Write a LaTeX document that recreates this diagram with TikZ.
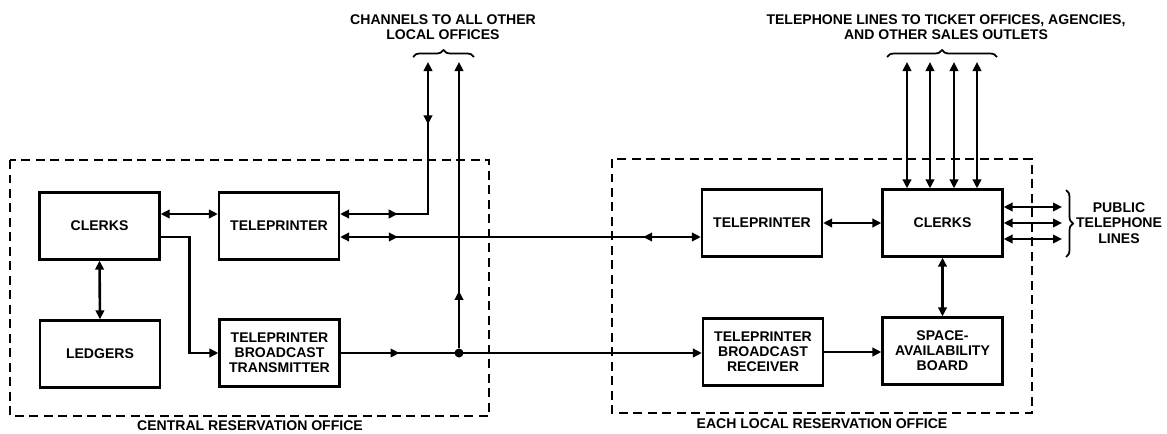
\documentclass[tikz,border=0pt]{standalone}
\usepackage{fontspec}
\setmainfont{Liberation Sans}
\usepackage{tikz}
\usetikzlibrary{arrows.meta, decorations.pathreplacing, decorations.markings}
\tikzstyle{block} = [draw, line width=1.3pt, minimum width=2.4cm, minimum height=1.34cm, align=center, inner sep=1pt, font=\fontsize{8}{8.6}\selectfont\bfseries]
\tikzstyle{office} = [draw, line width=1.2pt, dash pattern=on 0.18cm off 0.11cm]
\tikzstyle{caption} = [font=\fontsize{8}{8.8}\selectfont\bfseries, align=center, inner sep=0pt]
\tikzstyle{link} = [line width=1.5pt, {Triangle[length=1.8mm, width=1.7mm]}-{Triangle[length=1.8mm, width=1.7mm]}]
\tikzstyle{feed} = [line width=1.5pt, -{Triangle[length=1.8mm, width=1.7mm]}]
\tikzstyle{bracket} = [line width=1pt, decorate, decoration={brace, amplitude=0.14cm}]
\tikzset{
    fwdmark/.style={postaction={decorate, decoration={markings, mark=at position #1 with {\arrow{Triangle[length=1.8mm, width=1.7mm]}}}}},
    revmark/.style={postaction={decorate, decoration={markings, mark=at position #1 with {\arrowreversed{Triangle[length=1.8mm, width=1.7mm]}}}}},
}

\begin{document}
\begin{tikzpicture}[x=0.02cm, y=-0.02cm]
    \useasboundingbox (0,0) rectangle (1167,433);
    % the two offices
    \draw[office] (10,160) rectangle (489,416);
    \draw[office] (612,159) rectangle (1032,413);
    \node[caption] (central) at (250,426) {CENTRAL RESERVATION OFFICE};
    \node[caption] (local) at (822,424) {EACH LOCAL RESERVATION OFFICE};

    \node[block] (clerksC) at (99.5,226) {CLERKS};
    \node[block] (ledgers) at (100,354) {LEDGERS};
    \node[block] (printC) at (279,226) {TELEPRINTER};
    \node[block] (transmit) at (279.5,353) {TELEPRINTER\\BROADCAST\\TRANSMITTER};

    \node[block] (printL) at (762,223) {TELEPRINTER};
    \node[block] (clerksL) at (942.5,223) {CLERKS};
    \node[block] (receive) at (763,352) {TELEPRINTER\\BROADCAST\\RECEIVER};
    \node[block] (board) at (942.5,351) {SPACE-\\AVAILABILITY\\BOARD};

    \node[circle, fill, inner sep=0pt, minimum size=0.18cm] (dot) at (459,353) {};
    \coordinate (chanA) at (428,62);
    \coordinate (chanB) at (459,62);

    \draw[link] ([yshift=0.24cm]clerksC.east) -- ([yshift=0.24cm]clerksC.east -| printC.west);
    \draw[link] (clerksC.south) -- (ledgers.north);
    \draw[feed] ([yshift=-0.22cm]clerksC.east) -| ([xshift=-0.58cm]transmit.west) -- (transmit.west);
    \draw[link, fwdmark=0.24, revmark=0.74] ([yshift=0.24cm]printC.east) -| (chanA);
    \draw[link, fwdmark=0.16, revmark=0.84] ([yshift=-0.22cm]printC.east) -- ([yshift=-0.22cm]printC.east -| printL.west);
    \draw[feed, fwdmark=0.163] (transmit.east) -- (dot.center) -- (dot.center -| receive.west);
    \draw[feed, fwdmark=0.2] (dot) -- (chanB);

    \draw[link] (printL.east) -- (clerksL.west);
    \draw[feed] (receive.east) -- (receive.east -| board.west);
    \draw[link] (clerksL.south) -- (board.north);
    \foreach \i/\tx in {1/907,2/930,3/954,4/977} {
        \coordinate (line\i) at (\tx,62);
        \draw[link] (line\i) -- (line\i |- clerksL.north);
    }
    \foreach \i/\ty in {1/207,2/223,3/239} {
        \coordinate (pub\i) at (1062,\ty);
        \draw[link] (pub\i -| clerksL.east) -- (pub\i);
    }

    % braces and their labels
    \draw[bracket] (413,57) -- (474,57);
    \draw[bracket] (887,57) -- (997,57);
    \draw[bracket] (1066,190) -- (1066,257);
    \node[caption] (channels) at (443,27) {CHANNELS TO ALL OTHER\\LOCAL OFFICES};
    \node[caption] (outlets) at (946,27) {TELEPHONE LINES TO TICKET OFFICES, AGENCIES,\\AND OTHER SALES OUTLETS};
    \node[caption] (public) at (1119,223) {PUBLIC\\TELEPHONE\\LINES};
\end{tikzpicture}
\end{document}
